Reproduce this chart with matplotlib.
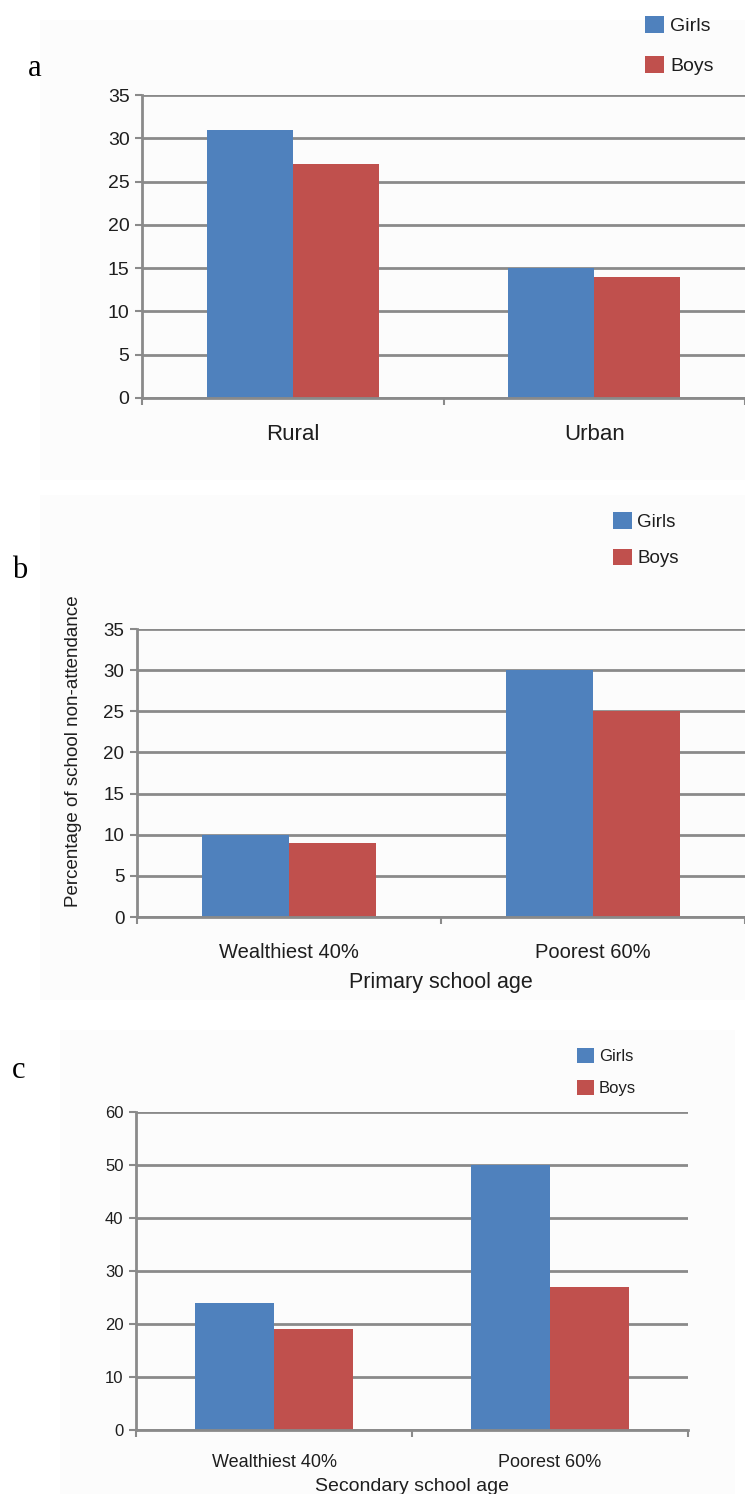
import matplotlib
matplotlib.use("Agg")
import matplotlib.pyplot as plt
from matplotlib.patches import Rectangle
import numpy as np

# Data
series = ["Girls", "Boys"]
colors = ["#4F81BD", "#C0504D"]

cats_a = ["Rural", "Urban"]
girls_a = [31, 15]
boys_a = [27, 14]

cats_b = ["Wealthiest 40%", "Poorest 60%"]
girls_b = [10, 30]
boys_b = [9, 25]

cats_c = ["Wealthiest 40%", "Poorest 60%"]
girls_c = [24, 50]
boys_c = [19, 27]

plt.rcParams["font.family"] = ["Liberation Sans", "DejaVu Sans"]

W, H = 745, 1494
fig = plt.figure(figsize=(W / 100, H / 100), dpi=100)
fig.patch.set_facecolor("white")

GRID = "#8a8a8a"
TEXT = "#1e1e1e"
PANEL_BG = "#fcfcfc"


def fx(px):
    return px / W


def fy(py):
    return 1 - py / H


# faint panel backgrounds, kept behind the axes
for (x0, y0, x1, y1) in [(40, 20, 745, 480), (40, 495, 745, 1000), (60, 1030, 735, 1494)]:
    fig.add_artist(Rectangle((fx(x0), fy(y1)), fx(x1) - fx(x0), fy(y0) - fy(y1),
                             transform=fig.transFigure, facecolor=PANEL_BG,
                             edgecolor="none", zorder=-10))


def panel(rect_px, cats, girls, boys, ymax, ystep, tick_fs, cat_fs, cat_pad, letter,
          letter_xy, legend_xy, legend_fs, label_spacing, xlabel=None, xlabel_fs=14,
          xlabel_pad=6, ylabel=None, ylabel_fs=14, ylabel_xy=None):
    x0, y0, x1, y1 = rect_px
    ax = fig.add_axes([fx(x0), fy(y1), fx(x1) - fx(x0), fy(y0) - fy(y1)])
    ax.set_facecolor("none")
    x = np.arange(len(cats))
    w = 0.286
    b1 = ax.bar(x - w / 2, girls, w, color=colors[0], zorder=3, label=series[0])
    b2 = ax.bar(x + w / 2, boys, w, color=colors[1], zorder=3, label=series[1])
    ax.set_xlim(-0.5, len(cats) - 0.5)
    ax.set_ylim(0, ymax)
    ax.set_yticks(np.arange(0, ymax + 0.1, ystep))
    ax.yaxis.grid(True, color=GRID, linewidth=2, zorder=1)
    ax.set_axisbelow(True)
    for s in ["top", "right"]:
        ax.spines[s].set_visible(False)
    for s in ["left", "bottom"]:
        ax.spines[s].set_color(GRID)
        ax.spines[s].set_linewidth(2)
        ax.spines[s].set_zorder(4)
    ax.set_xticks(x)
    ax.set_xticklabels(cats, fontsize=cat_fs, color=TEXT)
    ax.tick_params(axis="x", length=0, pad=cat_pad)
    ax.set_xticks(np.arange(-0.5, len(cats), 1.0), minor=True)
    ax.tick_params(axis="x", which="minor", length=5, width=1.5, color=GRID)
    ax.tick_params(axis="y", length=5, width=1.5, color=GRID, labelsize=tick_fs,
                   labelcolor=TEXT, pad=4)
    if xlabel:
        ax.set_xlabel(xlabel, fontsize=xlabel_fs, color=TEXT, labelpad=xlabel_pad)
    if ylabel:
        ax.set_ylabel(ylabel, fontsize=ylabel_fs, color=TEXT)
        ax.yaxis.set_label_coords(*ylabel_xy)
    fig.text(fx(letter_xy[0]), fy(letter_xy[1]), letter, family="Liberation Serif",
             fontsize=22, ha="left", va="center", color="black")
    ax.legend(handles=[b1, b2], loc="upper left",
              bbox_to_anchor=(fx(legend_xy[0]), fy(legend_xy[1])),
              bbox_transform=fig.transFigure, frameon=False, fontsize=legend_fs,
              handlelength=1.0, handleheight=1.0, handletextpad=0.3,
              labelspacing=label_spacing, borderpad=0, borderaxespad=0,
              labelcolor=TEXT)
    return ax


panel((142, 95, 745, 398), cats_a, girls_a, boys_a, 35, 5, 14, 16, 19, "a", (28, 68),
      (645, 16), 14, 1.05)
panel((137, 629, 745, 917), cats_b, girls_b, boys_b, 35, 5, 13.5, 14.5, 19, "b", (12, 570),
      (613, 512), 13.5, 0.95, xlabel="Primary school age", xlabel_fs=15.5,
      xlabel_pad=7, ylabel="Percentage of school non-attendance", ylabel_fs=13.5,
      ylabel_xy=(-0.09, 0.575))
panel((136, 1112, 688, 1430), cats_c, girls_c, boys_c, 60, 10, 12, 13, 17, "c", (12, 1070),
      (577, 1048), 12, 0.95, xlabel="Secondary school age", xlabel_fs=14,
      xlabel_pad=5)

fig.savefig("out.png", dpi=100)
